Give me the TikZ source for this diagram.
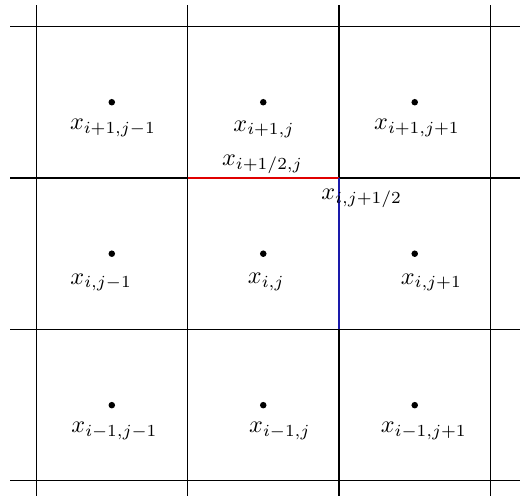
\documentclass[tikz,border=0pt]{standalone}
\usepackage{tikz}
\definecolor{facered}{HTML}{E00000}
\definecolor{faceblue}{HTML}{1A1AAA}
\tikzset{
	cellpt/.style={circle,fill=black,inner sep=0pt,minimum size=2.7pt},
	gridln/.style={black,line width=0.45pt}
}

\begin{document}
\begin{tikzpicture}[x=2.2cm,y=2.2cm]
\useasboundingbox (-0.238,-0.099) rectangle (3.195,3.175);
% grid
\foreach \k in {0,...,3}{
	\draw[gridln] (-0.17,\k) -- (3.2,\k);
	\draw[gridln] (\k,-0.1) -- (\k,3.14);
	}
% cell centres and their labels
\foreach \cx/\cy/\lab/\lx/\ly [count=\n] in {
	0/2/{i+1,j-1}/0.508/2.33,
	1/2/{i+1,j}/1.505/2.32,
	2/2/{i+1,j+1}/2.515/2.33,
	0/1/{i,j-1}/0.43/1.31,
	1/1/{i,j}/1.52/1.315,
	2/1/{i,j+1}/2.61/1.31,
	0/0/{i-1,j-1}/0.518/0.33,
	1/0/{i-1,j}/1.61/0.33,
	2/0/{i-1,j+1}/2.56/0.33%
	}{
	\node[cellpt] (pt\n) at (\cx+0.5,\cy+0.5) {};
	\node (lab\n) at (\lx,\ly) {$x_{\lab}$};
	}
% faces
\coordinate (fa) at (1,2);
\coordinate (fb) at (2,2);
\coordinate (fc) at (2,1);
\draw[facered,line width=0.55pt] (fa) -- (fb);
\draw[faceblue,line width=0.55pt] (fb) -- (fc);
\node (half1) at (1.495,2.09) {$x_{i+1/2,j}$};
\node (half2) at (2.15,1.865) {$x_{i,j+1/2}$};
\end{tikzpicture}
\end{document}
